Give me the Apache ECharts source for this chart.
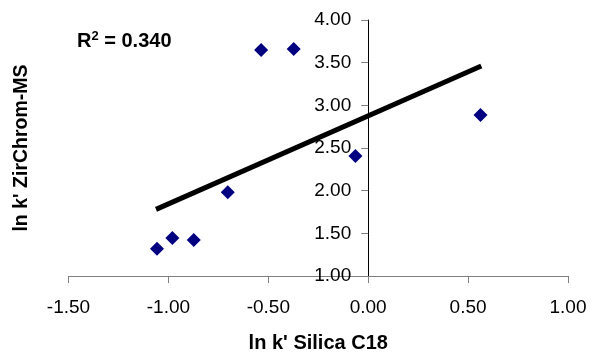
<!DOCTYPE html>
<html>
<head>
<meta charset="utf-8">
<script src="https://cdn.jsdelivr.net/npm/echarts@6/dist/echarts.min.js"></script>
<style>html,body{margin:0;padding:0;background:#fff}#c{width:591px;height:352px}</style>
</head>
<body>
<div id="c"></div>
<script>
const silicaX = [-1.057, -0.980, -0.873, -0.703, -0.536, -0.373, -0.064, 0.562];
const zirchromY = [1.319, 1.444, 1.421, 1.980, 3.648, 3.660, 2.406, 2.886];
const trendX = [-1.062, 0.566];
const trendY = [1.781, 3.461];
const xTitle = "ln k' Silica C18";
const yTitle = "ln k' ZirChrom-MS";
const r2Value = "0.340";
const xMin = -1.5, xMax = 1.0, yMin = 1.0, yMax = 4.0;

const points = silicaX.map((x, i) => [x, zirchromY[i]]);
const trend = trendX.map((x, i) => [x, trendY[i]]);
const font = 'Arial, "Liberation Sans", sans-serif';

const W = 591, gridLeft = 68.5, gridRight = 23;
const gridW = W - gridLeft - gridRight;
const yAxisOffset = -gridW * (0 - xMin) / (xMax - xMin);

const chart = echarts.init(document.getElementById('c'), null, {renderer: 'canvas'});
chart.setOption({
  animation: false,
  backgroundColor: '#ffffff',
  title: {
    text: '{a|R}{s|2}{a| = ' + r2Value + '}',
    left: 72, top: 25,
    textStyle: {
      rich: {
        a: {fontFamily: font, fontWeight: 'bold', fontSize: 20, color: '#000'},
        s: {fontFamily: font, fontWeight: 'bold', fontSize: 13, color: '#000', verticalAlign: 'top', padding: [0, 0, 9, 0]}
      }
    }
  },
  grid: {left: gridLeft, right: gridRight, top: 20, bottom: 76, containLabel: false, outerBoundsMode: 'none'},
  xAxis: {
    type: 'value', min: xMin, max: xMax, interval: 0.5,
    name: xTitle, nameLocation: 'middle', nameGap: 57,
    nameTextStyle: {fontFamily: font, fontWeight: 'bold', fontSize: 20, color: '#000'},
    axisLine: {onZero: false, lineStyle: {color: '#808080', width: 1}},
    axisTick: {show: true, inside: false, length: 7, lineStyle: {color: '#808080'}},
    axisLabel: {fontFamily: font, fontSize: 19, color: '#000', margin: 22,
      formatter: v => v.toFixed(2)},
    splitLine: {show: false}
  },
  yAxis: {
    type: 'value', min: yMin, max: yMax, interval: 0.5,
    position: 'left', offset: yAxisOffset,
    name: yTitle, nameLocation: 'middle', nameGap: 337, nameRotate: 90,
    nameTextStyle: {fontFamily: font, fontWeight: 'bold', fontSize: 19.5, color: '#000'},
    axisLine: {show: true, onZero: false, lineStyle: {color: '#000', width: 1}},
    axisTick: {show: true, inside: false, length: 7, lineStyle: {color: '#808080'}},
    axisLabel: {fontFamily: font, fontSize: 19, color: '#000', margin: 17,
      formatter: v => v.toFixed(2)},
    splitLine: {show: false}
  },
  series: [
    {
      type: 'line', data: trend, showSymbol: false, symbol: 'none',
      lineStyle: {color: '#000', width: 5}, z: 3, silent: true
    },
    {
      type: 'scatter', data: points, symbol: 'diamond', symbolSize: 14,
      itemStyle: {color: '#000080', opacity: 1}, z: 4
    }
  ]
});
</script>
</body>
</html>
